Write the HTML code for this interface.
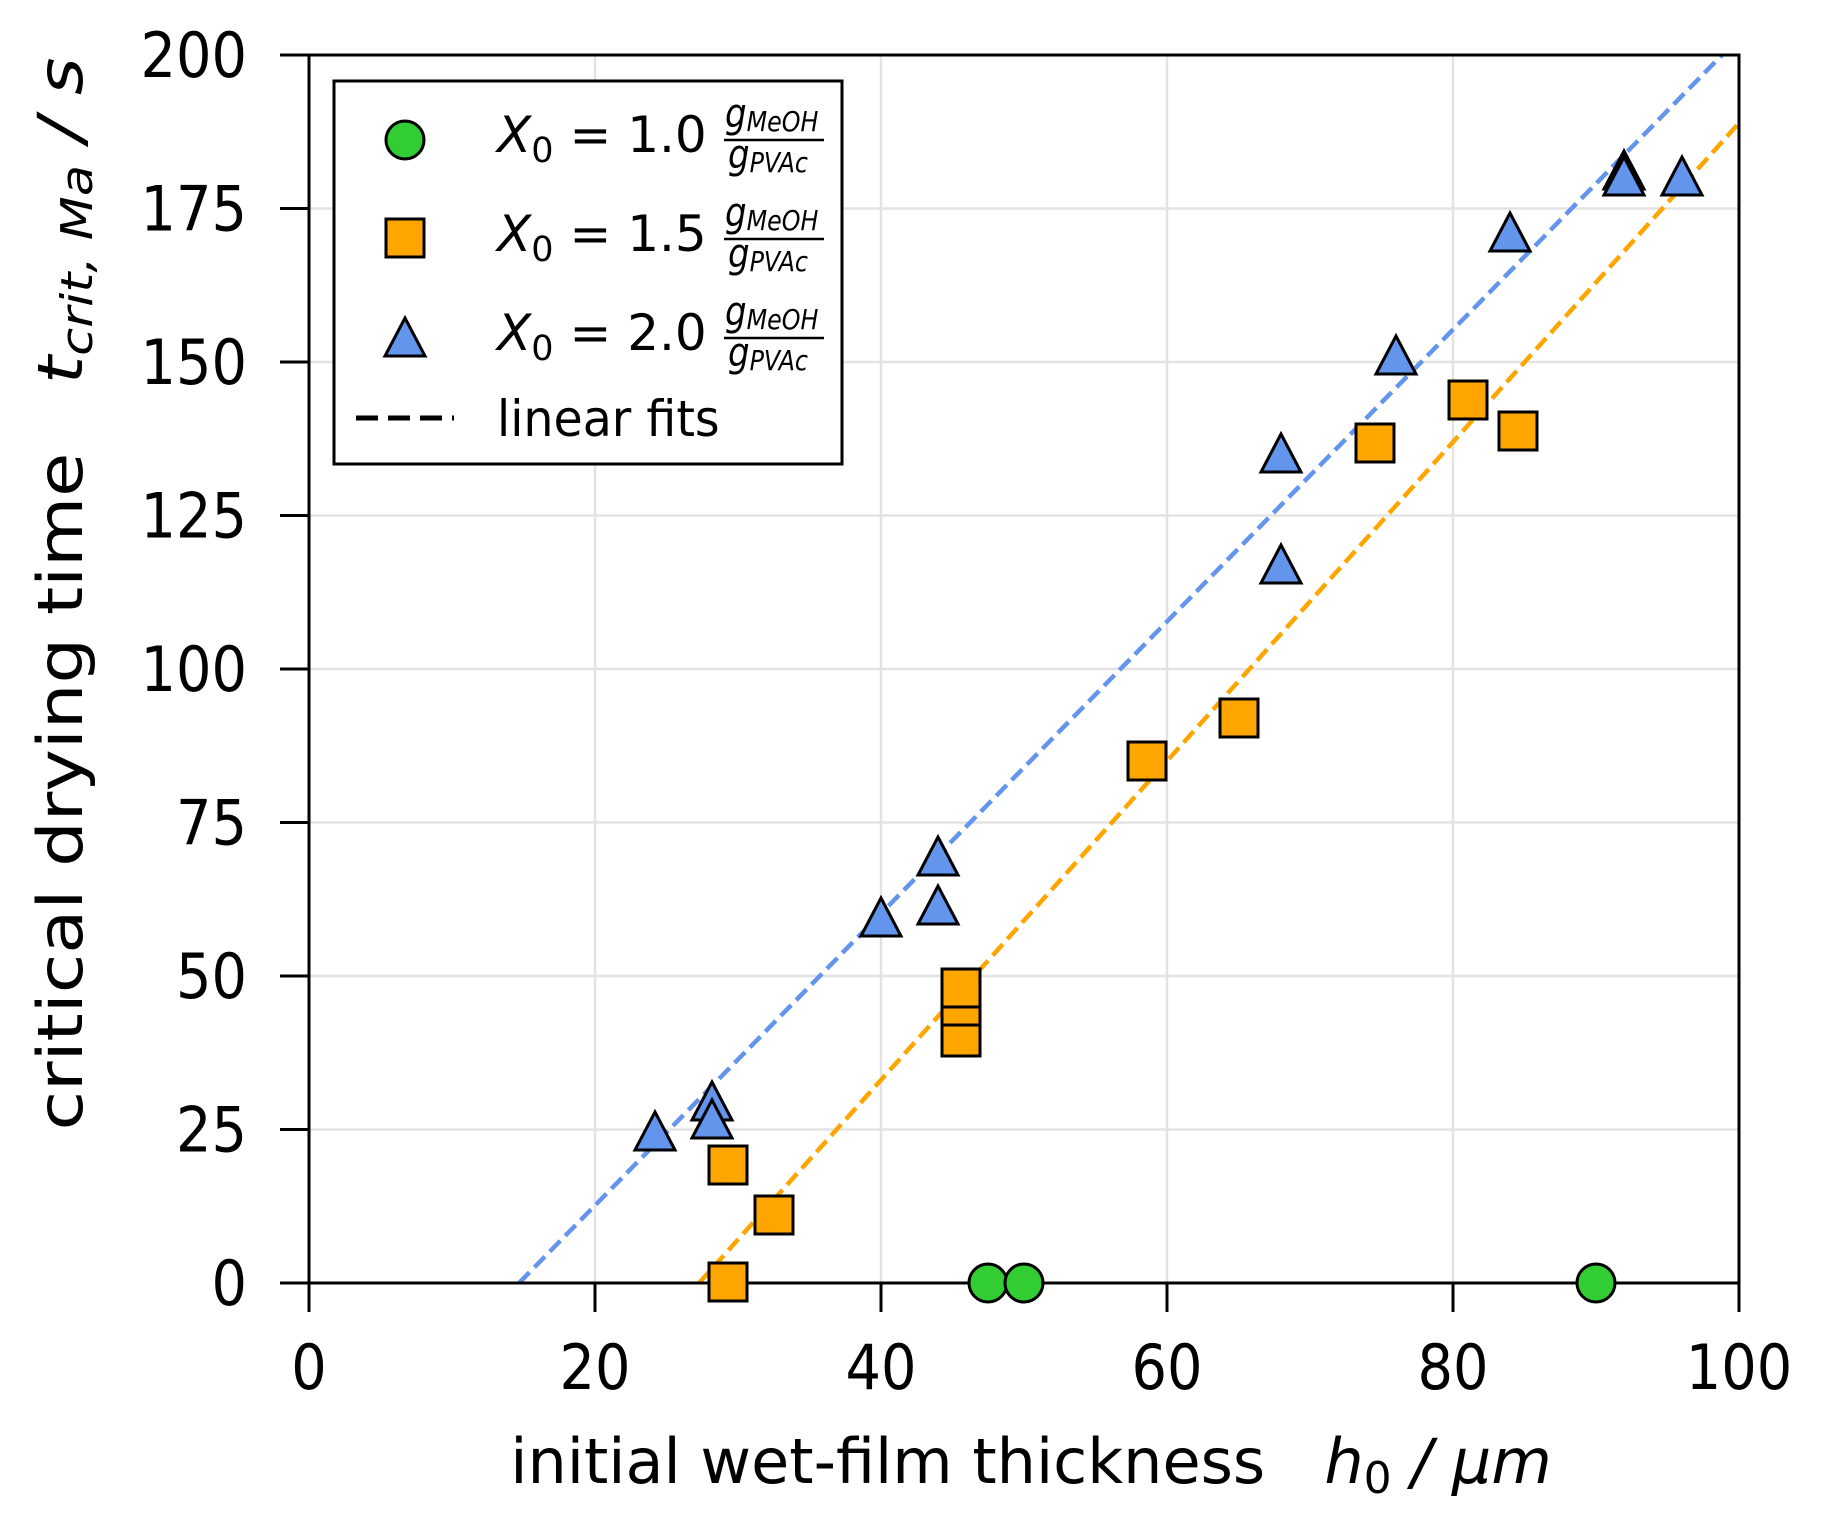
<!DOCTYPE html>
<html><head><meta charset="utf-8"><style>
html,body{margin:0;padding:0;background:#fff;}
svg text{font-family:"DejaVu Sans","Liberation Sans",sans-serif;fill:#000;white-space:pre;}
</style></head><body>
<svg width="1827" height="1533" viewBox="0 0 1827 1533" xmlns="http://www.w3.org/2000/svg" xml:space="preserve">
<g stroke="#e3e3e3" stroke-width="2.5">
<line x1="595" y1="55" x2="595" y2="1283"/><line x1="881" y1="55" x2="881" y2="1283"/>
<line x1="1167" y1="55" x2="1167" y2="1283"/><line x1="1453" y1="55" x2="1453" y2="1283"/>
<line x1="309" y1="1129.5" x2="1739" y2="1129.5"/><line x1="309" y1="976" x2="1739" y2="976"/>
<line x1="309" y1="822.5" x2="1739" y2="822.5"/><line x1="309" y1="669" x2="1739" y2="669"/>
<line x1="309" y1="515.5" x2="1739" y2="515.5"/><line x1="309" y1="362" x2="1739" y2="362"/>
<line x1="309" y1="208.5" x2="1739" y2="208.5"/>
</g>
<line x1="519" y1="1283" x2="1722" y2="55" stroke="#6495ed" stroke-width="4.5" stroke-dasharray="15,7"/>
<line x1="699" y1="1283" x2="1739" y2="123" stroke="#ffa500" stroke-width="4.5" stroke-dasharray="15,7"/>
<rect x="309" y="55" width="1430" height="1228" fill="none" stroke="#000" stroke-width="3"/>
<g stroke="#000" stroke-width="3">
<line x1="309" y1="1283" x2="309" y2="1312"/><line x1="595" y1="1283" x2="595" y2="1312"/>
<line x1="881" y1="1283" x2="881" y2="1312"/><line x1="1167" y1="1283" x2="1167" y2="1312"/>
<line x1="1453" y1="1283" x2="1453" y2="1312"/><line x1="1739" y1="1283" x2="1739" y2="1312"/>
<line x1="280" y1="1283" x2="309" y2="1283"/><line x1="280" y1="1129.5" x2="309" y2="1129.5"/>
<line x1="280" y1="976" x2="309" y2="976"/><line x1="280" y1="822.5" x2="309" y2="822.5"/>
<line x1="280" y1="669" x2="309" y2="669"/><line x1="280" y1="515.5" x2="309" y2="515.5"/>
<line x1="280" y1="362" x2="309" y2="362"/><line x1="280" y1="208.5" x2="309" y2="208.5"/>
<line x1="280" y1="55" x2="309" y2="55"/>
</g>
<g font-size="62" text-anchor="middle">
<text transform="translate(309,1389) scale(0.9,1)">0</text>
<text transform="translate(595,1389) scale(0.9,1)">20</text>
<text transform="translate(881,1389) scale(0.9,1)">40</text>
<text transform="translate(1167,1389) scale(0.9,1)">60</text>
<text transform="translate(1453,1389) scale(0.9,1)">80</text>
<text transform="translate(1739,1389) scale(0.9,1)">100</text>
</g>
<g font-size="62" text-anchor="end">
<text transform="translate(247,1305) scale(0.9,1)">0</text>
<text transform="translate(247,1151.5) scale(0.9,1)">25</text>
<text transform="translate(247,998) scale(0.9,1)">50</text>
<text transform="translate(247,844.5) scale(0.9,1)">75</text>
<text transform="translate(247,691) scale(0.9,1)">100</text>
<text transform="translate(247,537.5) scale(0.9,1)">125</text>
<text transform="translate(247,384) scale(0.9,1)">150</text>
<text transform="translate(247,230.5) scale(0.9,1)">175</text>
<text transform="translate(247,77) scale(0.9,1)">200</text>
</g>
<text font-size="62" text-anchor="middle" transform="translate(1031,1483)">initial wet-film thickness&#160;&#160;&#160;<tspan font-style="italic">h</tspan><tspan font-size="44" dy="10">0</tspan><tspan dy="-10" font-style="italic">&#160;/&#160;μm</tspan></text>
<text font-size="62" text-anchor="middle" transform="translate(82,594) rotate(-90) scale(1.16,1)">critical drying time&#160;&#160;&#160;<tspan font-style="italic">t</tspan><tspan font-size="44" font-style="italic" dy="10">crit,&#160;Ma</tspan><tspan dy="-10" font-style="italic">&#160;/&#160;s</tspan></text>
<g fill="#6495ed" stroke="#000" stroke-width="3">
<polygon points="655,1112 675,1150 635,1150"/>
<polygon points="712,1082 732,1120 692,1120"/>
<polygon points="712,1100 732,1138 692,1138"/>
<polygon points="881,898 901,936 861,936"/>
<polygon points="938,837 958,875 918,875"/>
<polygon points="938,886 958,924 918,924"/>
<polygon points="1281,434 1301,472 1261,472"/>
<polygon points="1281,545 1301,583 1261,583"/>
<polygon points="1396,336 1416,374 1376,374"/>
<polygon points="1510,213 1530,251 1490,251"/>
<polygon points="1624,151 1644,189 1604,189"/>
<polygon points="1624,157 1644,195 1604,195"/>
<polygon points="1682,157 1702,195 1662,195"/>
</g>
<g fill="#ffa500" stroke="#000" stroke-width="3">
<rect x="709" y="1263" width="38" height="38"/>
<rect x="709" y="1146" width="38" height="38"/>
<rect x="755" y="1196" width="38" height="38"/>
<rect x="942" y="1018" width="38" height="38"/>
<rect x="942" y="987" width="38" height="38"/>
<rect x="942" y="969" width="38" height="38"/>
<rect x="1128" y="742" width="38" height="38"/>
<rect x="1220" y="699" width="38" height="38"/>
<rect x="1356" y="424" width="38" height="38"/>
<rect x="1449" y="381" width="38" height="38"/>
<rect x="1499" y="412" width="38" height="38"/>
</g>
<g fill="#32cd32" stroke="#000" stroke-width="3">
<circle cx="988" cy="1283" r="19"/><circle cx="1024" cy="1283" r="19"/><circle cx="1596" cy="1283" r="19"/>
</g>
<rect x="334" y="81" width="508" height="383" fill="#fff" stroke="#000" stroke-width="3"/>
<circle cx="405" cy="140" r="19" fill="#32cd32" stroke="#000" stroke-width="3"/>
<rect x="386" y="219" width="38" height="38" fill="#ffa500" stroke="#000" stroke-width="3"/>
<polygon points="405,318 425,356 385,356" fill="#6495ed" stroke="#000" stroke-width="3"/>
<line x1="356" y1="418" x2="454" y2="418" stroke="#000" stroke-width="5" stroke-dasharray="22,10"/>
<g font-size="50">
<text transform="translate(497,152) scale(1,1)"><tspan font-style="italic">X</tspan><tspan font-size="35" dy="10">0</tspan><tspan dy="-10">&#160;=&#160;1.0</tspan></text>
<text transform="translate(497,251) scale(1,1)"><tspan font-style="italic">X</tspan><tspan font-size="35" dy="10">0</tspan><tspan dy="-10">&#160;=&#160;1.5</tspan></text>
<text transform="translate(497,350) scale(1,1)"><tspan font-style="italic">X</tspan><tspan font-size="35" dy="10">0</tspan><tspan dy="-10">&#160;=&#160;2.0</tspan></text>
<text transform="translate(497,436) scale(0.95,1)">linear fits</text>
</g>
<g font-style="italic">
<text transform="translate(725,127) scale(0.85,1)" font-size="40">g<tspan font-size="28" dy="4">MeOH</tspan></text>
<line x1="724" y1="140" x2="824" y2="140" stroke="#000" stroke-width="2.5"/>
<text transform="translate(728,168) scale(0.85,1)" font-size="40">g<tspan font-size="28" dy="4">PVAc</tspan></text>
</g>
<g font-style="italic" transform="translate(0,99)">
<text transform="translate(725,127) scale(0.85,1)" font-size="40">g<tspan font-size="28" dy="4">MeOH</tspan></text>
<line x1="724" y1="140" x2="824" y2="140" stroke="#000" stroke-width="2.5"/>
<text transform="translate(728,168) scale(0.85,1)" font-size="40">g<tspan font-size="28" dy="4">PVAc</tspan></text>
</g>
<g font-style="italic" transform="translate(0,198)">
<text transform="translate(725,127) scale(0.85,1)" font-size="40">g<tspan font-size="28" dy="4">MeOH</tspan></text>
<line x1="724" y1="140" x2="824" y2="140" stroke="#000" stroke-width="2.5"/>
<text transform="translate(728,168) scale(0.85,1)" font-size="40">g<tspan font-size="28" dy="4">PVAc</tspan></text>
</g>
</svg>
</body></html>
